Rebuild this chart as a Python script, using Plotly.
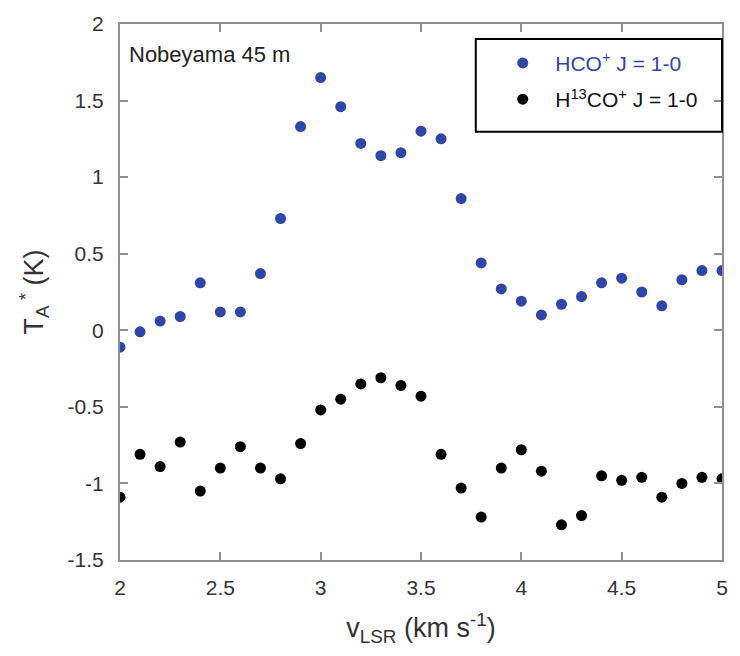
import plotly.graph_objects as go

v_lsr = [2.0, 2.1, 2.2, 2.3, 2.4, 2.5, 2.6, 2.7, 2.8, 2.9, 3.0, 3.1, 3.2, 3.3, 3.4, 3.5,
         3.6, 3.7, 3.8, 3.9, 4.0, 4.1, 4.2, 4.3, 4.4, 4.5, 4.6, 4.7, 4.8, 4.9, 5.0]
hco = [-0.11, -0.01, 0.06, 0.09, 0.31, 0.12, 0.12, 0.37, 0.73, 1.33, 1.65, 1.46, 1.22, 1.14, 1.16, 1.30,
       1.25, 0.86, 0.44, 0.27, 0.19, 0.10, 0.17, 0.22, 0.31, 0.34, 0.25, 0.16, 0.33, 0.39, 0.39]
h13co = [-1.09, -0.81, -0.89, -0.73, -1.05, -0.90, -0.76, -0.90, -0.97, -0.74, -0.52, -0.45, -0.35, -0.31, -0.36, -0.43,
         -0.81, -1.03, -1.22, -0.90, -0.78, -0.92, -1.27, -1.21, -0.95, -0.98, -0.96, -1.09, -1.00, -0.96, -0.97]

x_ticks = [2, 2.5, 3, 3.5, 4, 4.5, 5]
x_ticktext = ["2", "2.5", "3", "3.5", "4", "4.5", "5"]
y_ticks = [-1.5, -1, -0.5, 0, 0.5, 1, 1.5, 2]
y_ticktext = ["-1.5", "-1", "-0.5", "0", "0.5", "1", "1.5", "2"]

BLUE = "#2f45a8"
FONT = "Liberation Sans, Arial, sans-serif"

fig = go.Figure()
fig.add_trace(go.Scatter(
    x=v_lsr, y=hco, mode="markers",
    marker=dict(color=BLUE, size=11),
    name='<span style="color:#2f45a8">HCO<sup>+</sup> J = 1-0</span>',
    legendgroup="a",
))
fig.add_trace(go.Scatter(
    x=v_lsr, y=h13co, mode="markers",
    marker=dict(color="black", size=11),
    name="H<sup>13</sup>CO<sup>+</sup> J = 1-0",
    legendgroup="b",
))

axis_common = dict(
    showline=True, linecolor="#8f8f8f", linewidth=2, mirror="ticks",
    ticks="inside", ticklen=8, tickwidth=1.5, tickcolor="#8f8f8f",
    showgrid=False, zeroline=False,
    tickfont=dict(family=FONT, size=21, color="#333333"),
)

fig.update_xaxes(
    range=[2, 5], tickvals=x_ticks, ticktext=x_ticktext, ticklabelstandoff=8,
    title=dict(text="v<sub>LSR</sub> (km s<sup>-1</sup>)", font=dict(family=FONT, size=27, color="#333333"), standoff=20),
    **axis_common,
)
fig.update_yaxes(
    range=[-1.5, 2], tickvals=y_ticks, ticktext=y_ticktext, ticklabelstandoff=10,
    title=dict(text="T<sub>A</sub><sup> *</sup> (K)", font=dict(family=FONT, size=27, color="#333333"), standoff=16),
    **axis_common,
)

fig.add_annotation(
    text="Nobeyama 45 m", xref="paper", yref="paper", x=0.012, y=0.944,
    xanchor="left", yanchor="middle", showarrow=False,
    font=dict(family=FONT, size=22, color="#222222"),
)

fig.add_shape(
    type="rect", xref="paper", yref="paper", x0=0.591, x1=1.0, y0=0.799, y1=0.972,
    line=dict(color="black", width=2), fillcolor="rgba(0,0,0,0)",
)

fig.update_layout(
    width=740, height=656,
    margin=dict(l=120, r=13, t=15, b=96),
    plot_bgcolor="white", paper_bgcolor="white",
    showlegend=True,
    legend=dict(
        x=0.615, y=0.965, xanchor="left", yanchor="top",
        bgcolor="rgba(0,0,0,0)", borderwidth=0,
        font=dict(family=FONT, size=21, color="#111111"),
        itemwidth=55, tracegroupgap=6, traceorder="grouped",
    ),
)

fig.write_html("out.html")
